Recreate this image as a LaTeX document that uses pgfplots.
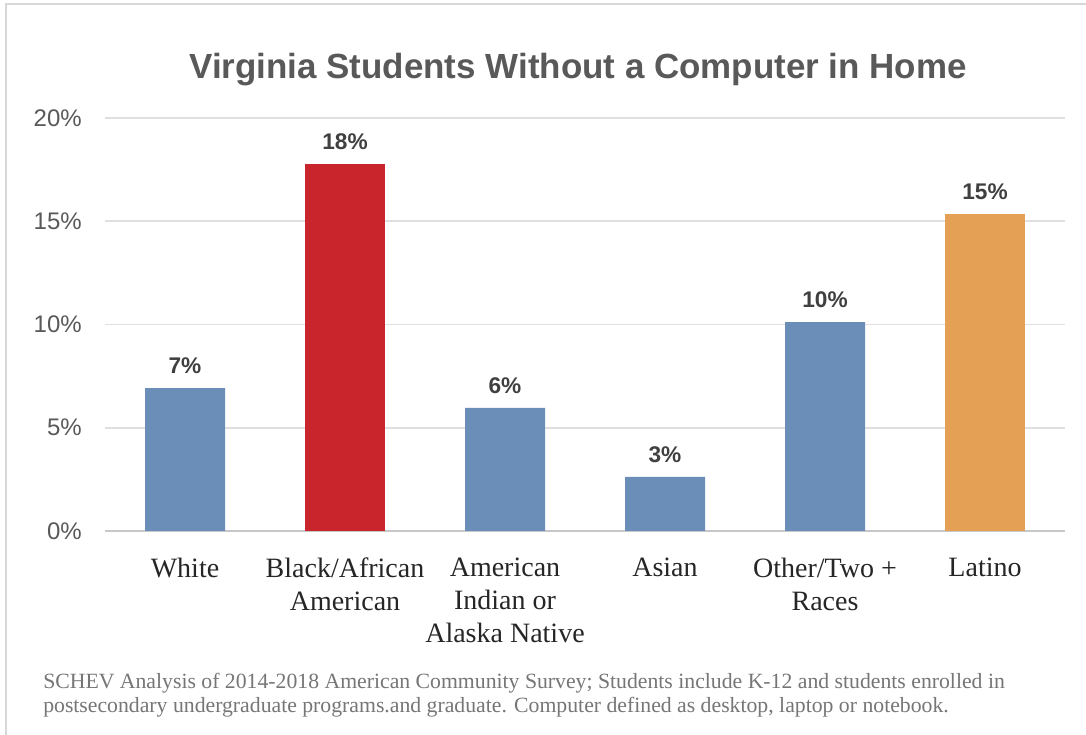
\documentclass[border=0pt]{standalone}
\usepackage{fontspec}
\setmainfont{Liberation Serif}
\newfontfamily\arial{Liberation Sans}
\usepackage{pgfplots}
\pgfplotsset{compat=1.18}
\definecolor{barblue}{RGB}{107,142,185}
\definecolor{barred}{RGB}{200,38,44}
\definecolor{barorange}{RGB}{228,160,85}
\definecolor{titlegray}{RGB}{89,89,89}
\definecolor{labgray}{RGB}{64,64,64}
\definecolor{notegray}{RGB}{118,118,118}
\definecolor{gridgray}{RGB}{224,224,224}
\definecolor{axisgray}{RGB}{200,200,200}
\definecolor{framegray}{RGB}{215,215,215}
\begin{document}
\begin{tikzpicture}
\path[use as bounding box, fill=white] (0,0) rectangle (814.5pt,551.25pt);
\draw[framegray, line width=1.5pt] (4.5pt,0) -- (4.5pt,548.25pt) -- (814.5pt,548.25pt);
\node[anchor=base, font=\arial\bfseries\fontsize{26.2}{30}\selectfont, text=titlegray, inner sep=0pt] at (433.5pt,492pt) {Virginia Students Without a Computer in Home};
\begin{axis}[
  at={(78.75pt,153pt)}, anchor=south west,
  scale only axis, width=720pt, height=309.75pt,
  xmin=-0.5, xmax=5.5, ymin=0, ymax=20,
  ybar, bar width=60pt, bar shift=0pt,
  axis x line*=bottom, axis y line*=left,
  axis line style={-},
  y axis line style={draw=none},
  x axis line style={draw=axisgray, line width=1.2pt},
  major tick length=0pt,
  ytick={0,5,10,15,20},
  yticklabels={0\%,5\%,10\%,15\%,20\%},
  ymajorgrids, grid style={draw=gridgray, line width=1.2pt},
  yticklabel style={anchor=east, inner sep=0pt, xshift=-17.25pt, font=\arial\fontsize{18}{20}\selectfont, text=titlegray},
  xtick={0,1,2,3,4,5},
  xticklabels={White, {Black/African\\American}, {American\\Indian or\\Alaska Native}, Asian, {Other/Two +\\Races}, Latino},
  xticklabel style={anchor=north, inner sep=0pt, yshift=-20pt, align=center, font=\fontsize{21}{24.75}\selectfont, text=black!85},
  /pgf/number format/assume math mode=true,
  nodes near coords={\pgfmathprintnumber[fixed,precision=0]{\pgfplotspointmeta}\%},
  every node near coord/.append style={anchor=base, inner sep=0pt, yshift=11pt, font=\arial\bfseries\fontsize{17}{20}\selectfont, text=labgray},
]
\addplot[fill=barblue, draw=none] coordinates {(0,6.92) (2,5.96) (3,2.62) (4,10.12)};
\addplot[fill=barred, draw=none] coordinates {(1,17.78)};
\addplot[fill=barorange, draw=none] coordinates {(5,15.35)};
\end{axis}
\node[anchor=base west, inner sep=0pt, font=\fontsize{16.3}{18}\selectfont, text=notegray] at (32.25pt,34.5pt) {SCHEV Analysis of 2014-2018 American Community Survey; Students include K-12 and students enrolled in};
\node[anchor=base west, inner sep=0pt, font=\fontsize{16.3}{18}\selectfont, text=notegray] at (32.25pt,16.5pt) {postsecondary undergraduate programs.and graduate. Computer defined as desktop, laptop or notebook.};
\end{tikzpicture}
\end{document}
